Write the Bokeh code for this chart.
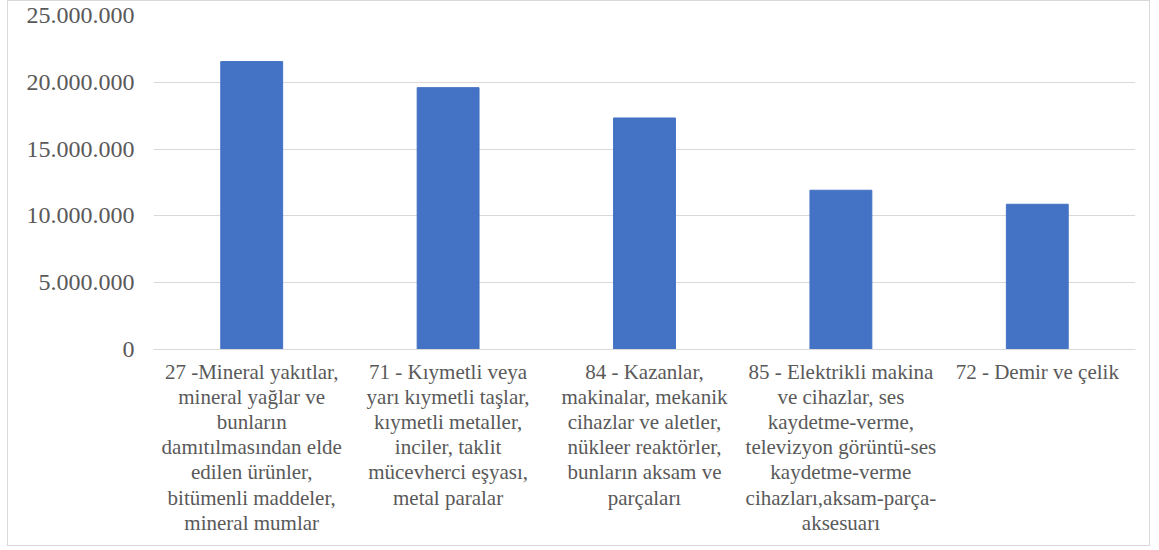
from bokeh.plotting import figure
from bokeh.models import FixedTicker, ColumnDataSource
from bokeh.embed import file_html
from bokeh.resources import INLINE

categories = [
    "27 -Mineral yakıtlar,\nmineral yağlar ve\nbunların\ndamıtılmasından elde\nedilen ürünler,\nbitümenli maddeler,\nmineral mumlar",
    "71 - Kıymetli veya\nyarı kıymetli taşlar,\nkıymetli metaller,\ninciler, taklit\nmücevherci eşyası,\nmetal paralar",
    "84 - Kazanlar,\nmakinalar, mekanik\ncihazlar ve aletler,\nnükleer reaktörler,\nbunların aksam ve\nparçaları",
    "85 - Elektrikli makina\nve cihazlar, ses\nkaydetme-verme,\ntelevizyon görüntü-ses\nkaydetme-verme\ncihazları,aksam-parça-\naksesuarı",
    "72 - Demir ve çelik",
]
values = [21550000, 19600000, 17330000, 11920000, 10870000]
tick_values = [0, 5000000, 10000000, 15000000, 20000000, 25000000]
tick_labels = ["0", "5.000.000", "10.000.000", "15.000.000", "20.000.000", "25.000.000"]

source = ColumnDataSource(data=dict(cat=categories, val=values))

p = figure(x_range=categories, y_range=(0, 25000000), width=1143, height=546,
           output_backend="svg", toolbar_location=None,
           min_border_left=145, min_border_right=16, min_border_top=14, min_border_bottom=198)
p.margin = (0, 0, 0, 7)
p.styles = {"border": "1px solid #d9d9d9"}
p.outline_line_color = None
p.background_fill_color = "white"
p.border_fill_color = "white"

p.vbar(x="cat", top="val", width=0.315, source=source, color="#4472C4")

font = "Times New Roman"
p.yaxis.ticker = FixedTicker(ticks=tick_values)
p.yaxis.major_label_overrides = {v: l for v, l in zip(tick_values, tick_labels)}
p.yaxis.axis_line_color = None
p.yaxis.major_tick_line_color = None
p.yaxis.minor_tick_line_color = None
p.yaxis.major_label_standoff = 13
p.yaxis.major_label_text_font = font
p.yaxis.major_label_text_font_size = "24px"
p.yaxis.major_label_text_color = "#595959"

p.xaxis.axis_line_color = "#d9d9d9"
p.xaxis.major_tick_line_color = None
p.xaxis.minor_tick_line_color = None
p.xaxis.major_label_standoff = 4
p.xaxis.major_label_text_font = font
p.xaxis.major_label_text_font_size = "21px"
p.xaxis.major_label_text_color = "#595959"
p.xaxis.major_label_text_line_height = 1.05

p.xgrid.grid_line_color = None
p.ygrid.grid_line_color = "#d9d9d9"
p.ygrid.grid_line_width = 1
p.x_range.range_padding = 0

open("out.html", "w").write(file_html(p, INLINE))
